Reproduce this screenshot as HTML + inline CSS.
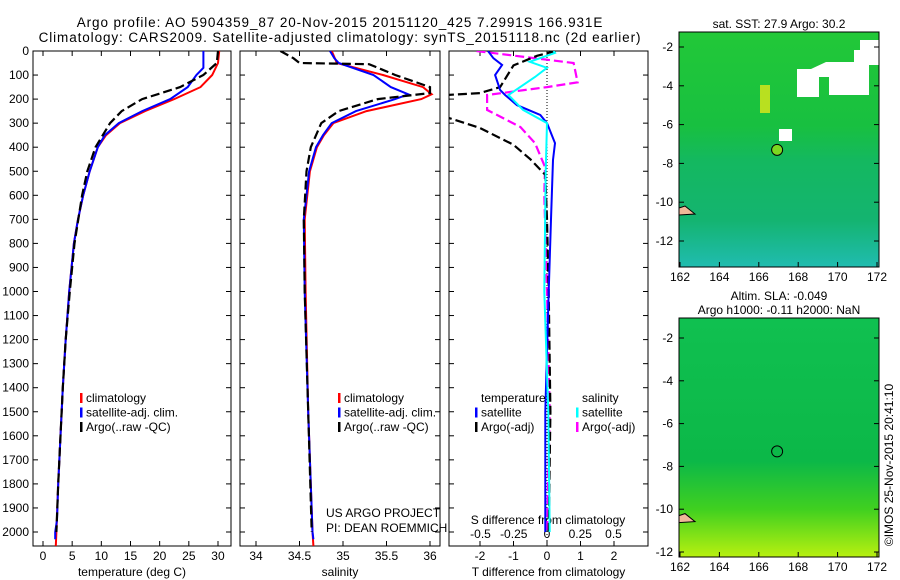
<!DOCTYPE html>
<html><head><meta charset="utf-8"><style>
html,body{margin:0;padding:0;background:#fff;}
svg{display:block;font-family:"Liberation Sans",sans-serif;}
text{font-size:12px;fill:#000;}
.ttl{font-size:13.5px;letter-spacing:0.9px;}
</style></head><body>
<svg id="c" width="900" height="580" viewBox="0 0 900 580" xmlns="http://www.w3.org/2000/svg">
<text class="ttl" x="340" y="27" text-anchor="middle">Argo profile: AO 5904359_87 20-Nov-2015 20151120_425 7.2991S 166.931E</text>
<text class="ttl" x="340" y="42" text-anchor="middle">Climatology: CARS2009. Satellite-adjusted climatology: synTS_20151118.nc (2d earlier)</text>
<g id="g"></g>
</svg>
<script>
// ---- data ----
const tClimDepth = [0,50,100,150,200,250,300,350,400,500,600,700,800,1000,1200,1400,1600,1800,2000,2058];
const tClimVal   = [30.2,30,29,27,22.5,17.5,13.2,10.8,9.4,8,6.9,6,5.3,4.5,3.9,3.4,3,2.6,2.3,2.2];
const tSatDepth  = [0,70,100,150,200,250,300,350,400,500,600,700,800,1000,1200,1400,1600,1800,1950,2000,2030];
const tSatVal    = [27.5,27.5,26.3,24.8,21.8,17,13,10.6,9.4,8,6.9,6,5.3,4.5,3.9,3.4,3,2.6,2.4,2.1,2.1];
const tArgoDepth = [0,50,100,150,200,250,300,400,500,600,800,1000,1200,1400,1600,1800,2000];
const tArgoVal   = [30,29.8,27.5,23.5,17,13.5,11.5,9,7.6,6.7,5.4,4.6,3.9,3.4,3,2.6,2.3];
const sClimDepth = [0,50,100,150,180,200,250,300,350,400,500,600,700,1000,1500,2000,2058];
const sClimVal   = [34.87,34.93,35.46,35.92,36.02,35.9,35.27,34.89,34.78,34.7,34.62,34.59,34.56,34.57,34.6,34.65,34.66];
const sSatDepth  = [0,30,50,100,150,180,200,250,300,350,400,500,600,700,1000,1500,2000,2030];
const sSatVal    = [34.85,34.9,34.95,35.35,35.55,35.75,35.6,35.15,34.87,34.77,34.69,34.61,34.58,34.55,34.56,34.6,34.65,34.66];
const sArgoDepth = [0,30,50,55,100,150,175,200,250,300,400,500,700,1000,1500,2000];
const sArgoVal   = [34.28,34.43,34.5,35.3,35.6,36.0,36.0,35.4,34.95,34.75,34.63,34.58,34.55,34.56,34.6,34.64];
const dTSatDepth = [0,30,58,100,162,183,225,266,300,383,453,700,1000,1500,2000];
const dTSatVal   = [-1.76,-1.6,-1.34,-1.55,-1.4,-1.25,-0.9,-0.2,0,0.24,0.18,0.12,0.05,-0.05,-0.05];
const dTArgoDepth= [0,20,60,150,175,183,275,280,320,390,450,515,700,1000,1500,2000];
const dTArgoVal  = [0.25,-0.3,-1.0,-1.4,-2.0,-3,-3,-2.9,-2.0,-1.0,-0.5,-0.05,0,0.05,0.1,0.05];
const dSSatDepth = [0,8,45,70,108,183,245,300,500,1000,1500,2000];
const dSSatVal   = [0.05,0.06,-0.13,0,-0.09,-0.29,-0.18,0,-0.01,-0.02,0.01,0.02];
const dSArgoDepth= [0,50,130,150,183,245,316,383,482,600,1000,1500,2000];
const dSArgoVal  = [-0.53,0.2,0.23,0.0,-0.45,-0.45,-0.2,-0.09,-0.015,-0.02,0,0.02,0];
const depthTicks = [0,100,200,300,400,500,600,700,800,900,1000,1100,1200,1300,1400,1500,1600,1700,1800,1900,2000];
const tTicks = [0,5,10,15,20,25,30];
const sTicks = [34,34.5,35,35.5,36];
const sTickLabels = ["34","34.5","35","35.5","36"];
const dTTicks = [-2,-1,0,1,2];
const dSTicks = [-0.5,-0.25,0,0.25,0.5];
const dSTickLabels = ["-0.5","-0.25","0","0.25","0.5"];
const lonTicks = [162,164,166,168,170,172];
const latTicks = [-2,-4,-6,-8,-10,-12];

const NS="http://www.w3.org/2000/svg";
const G=document.getElementById('g');
function el(tag,attrs,parent){const e=document.createElementNS(NS,tag);for(const k in attrs)e.setAttribute(k,attrs[k]);(parent||G).appendChild(e);return e;}
function txt(x,y,s,anchor,parent){const t=el('text',{x:x,y:y,'text-anchor':anchor||'middle'},parent);t.textContent=s;return t;}
const yD=d=>51+d*0.2405;

function panel(name,x0,x1,xs,ticks,labels,xlabel,showY){
  const g=el('g',{});
  
  
  const r=el('rect',{x:x0,y:51,width:x1-x0,height:495,fill:'none',stroke:'#000','stroke-width':1},g);
  
  
  depthTicks.forEach(d=>{
    el('line',{x1:x0,x2:x0+5,y1:yD(d),y2:yD(d),stroke:'#000'},g);
    el('line',{x1:x1-5,x2:x1,y1:yD(d),y2:yD(d),stroke:'#000'},g);
    if(showY){const t=txt(x0-4,yD(d)+4,String(d),'end',g);
      
      }
  });
  ticks.forEach((v,i)=>{
    el('line',{x1:xs(v),x2:xs(v),y1:546,y2:541,stroke:'#000'},g);
    el('line',{x1:xs(v),x2:xs(v),y1:51,y2:56,stroke:'#000'},g);
    const t=txt(xs(v),560,labels[i],'middle',g);
    
    
  });
  const xl=txt((x0+x1)/2,576,xlabel,'middle',g);
  
  
  return g;
}
function series(name,dep,val,xs,color,dash,w,x0,x1){
  const cp='cp'+x0;
  if(!document.getElementById(cp)){const c=el('clipPath',{id:cp});el('rect',{x:x0,y:51,width:x1-x0,height:495},c);}
  const pts=dep.map((d,i)=>xs(val[i]).toFixed(1)+','+yD(d).toFixed(1)).join(' ');
  const p=el('polyline',{points:pts,fill:'none',stroke:color,'stroke-width':w||2,'clip-path':'url(#'+cp+')'});
  if(dash)p.setAttribute('stroke-dasharray',dash);
  
  
}
function legend(x,y,items){
  items.forEach((it,i)=>{
    if(it.c){const m=el('rect',{x:x,y:y+i*14.5-9,width:2.5,height:10,fill:it.c});
      
      }
    const t=txt(x+6,y+i*14.5,it.t,'start');
    
    
  });
}
// panel 1
const xT=v=>43+v*5.833;
panel('temperature-panel',33,231,xT,tTicks,tTicks.map(String),'temperature (deg C)',true);
series('temp-climatology',tClimDepth,tClimVal,xT,'#f00',null,2,33,231);
series('temp-satellite-adj',tSatDepth,tSatVal,xT,'#00f',null,2,33,231);
series('temp-argo',tArgoDepth,tArgoVal,xT,'#000','9,4',2.2,33,231);
legend(80,402,[{t:'climatology',c:'#f00'},{t:'satellite-adj. clim.',c:'#00f'},{t:'Argo(..raw -QC)',c:'#000'}]);
// panel 2
const xS=v=>256+(v-34)*87;
panel('salinity-panel',240,440,xS,sTicks,sTickLabels,'salinity',false);
series('sal-climatology',sClimDepth,sClimVal,xS,'#f00',null,2,240,440);
series('sal-satellite-adj',sSatDepth,sSatVal,xS,'#00f',null,2,240,440);
series('sal-argo',sArgoDepth,sArgoVal,xS,'#000','9,4',2.2,240,440);
legend(338,402,[{t:'climatology',c:'#f00'},{t:'satellite-adj. clim.',c:'#00f'},{t:'Argo(..raw -QC)',c:'#000'}]);
const u1=txt(326,517,'US ARGO PROJECT','start');
const u2=txt(326,532,'PI: DEAN ROEMMICH','start');
// panel 3
const xDT=v=>547+v*33.5, xDS=v=>547+v*133;
panel('difference-panel',449,648,xDT,dTTicks,dTTicks.map(String),'T difference from climatology',false);
dSTicks.forEach((v,i)=>{const t=txt(xDS(v),538,dSTickLabels[i]);});
const st=txt(548,524,'S difference from climatology');
el('line',{x1:547,x2:547,y1:51,y2:546,stroke:'#000','stroke-dasharray':'1,2','stroke-width':1});
series('dS-argo',dSArgoDepth,dSArgoVal,xDS,'#f0f','9,4',2.2,449,648);
series('dT-argo',dTArgoDepth,dTArgoVal,xDT,'#000','9,4',2.2,449,648);
series('dT-satellite',dTSatDepth,dTSatVal,xDT,'#00f',null,2,449,648);
series('dS-satellite',dSSatDepth,dSSatVal,xDS,'#0ff',null,2,449,648);
legend(475,402,[{t:'temperature'},{t:'satellite',c:'#00f'},{t:'Argo(-adj)',c:'#000'}]);
legend(576,402,[{t:'salinity'},{t:'satellite',c:'#0ff'},{t:'Argo(-adj)',c:'#f0f'}]);

// maps
function map(name,y0,y1,lat2y,title,kind){
  const g=el('g',{});
  
  
  const lx=v=>680+(v-162)*19.7;
  if(kind==='sst'){
    const gr=el('linearGradient',{id:'sst',x1:0,y1:0,x2:0,y2:1},g);
    el('stop',{offset:'0','stop-color':'#22c838'},gr);
    el('stop',{offset:'0.4','stop-color':'#18c040'},gr);
    el('stop',{offset:'0.55','stop-color':'#14b860'},gr);
    el('stop',{offset:'0.8','stop-color':'#14b470'},gr);
    el('stop',{offset:'1','stop-color':'#20bcb0'},gr);
    el('rect',{x:679,y:y0,width:200,height:y1-y0,fill:'url(#sst)'},g);
    el('path',{d:'M826 62h28v-12h15v45h-40v-18h-10v20h-22v-28h14z',fill:'#fff'},g);
    el('rect',{x:860,y:40,width:19,height:25,fill:'#fff'},g);
    el('rect',{x:779,y:129,width:13,height:12,fill:'#fff'},g);
    el('rect',{x:760,y:85,width:10,height:28,fill:'#b8e020'},g);
  } else {
    const gr=el('linearGradient',{id:'sla',x1:0,y1:0,x2:0,y2:1},g);
    el('stop',{offset:'0','stop-color':'#10c050'},gr);
    el('stop',{offset:'0.6','stop-color':'#0cb848'},gr);
    el('stop',{offset:'0.8','stop-color':'#40d020'},gr);
    el('stop',{offset:'1','stop-color':'#b8f010'},gr);
    el('rect',{x:679,y:y0,width:200,height:y1-y0,fill:'url(#sla)'},g);
  }
  el('rect',{x:679,y:y0,width:200,height:y1-y0,fill:'none',stroke:'#000'},g);
  el('path',{d:`M679 ${lat2y(-10.3)} l6 -2 l10 8 l-16 1z`,fill:'#f0b898',stroke:'#000','stroke-width':1},g);
  const c=el('circle',{cx:lx(166.93),cy:lat2y(-7.3),r:5.5,fill:kind==='sst'?'#7cd820':'#0cb848',stroke:'#000'},g);
  
  
  latTicks.forEach(v=>{
    el('line',{x1:879,x2:874,y1:lat2y(v),y2:lat2y(v),stroke:'#000'},g);
    el('line',{x1:679,x2:684,y1:lat2y(v),y2:lat2y(v),stroke:'#000'},g);
    const t=txt(673,lat2y(v)+4,String(v),'end',g);
    
    
  });
  lonTicks.forEach(v=>{
    el('line',{x1:lx(v),x2:lx(v),y1:y1,y2:y1-5,stroke:'#000'},g);
    const t=txt(lx(v),y1+14,String(v),'middle',g);
    
    
  });
  title.forEach((s,i)=>{const t=txt(779,y0-(title.length-i)*14+10,s,'middle',g);
    
    });
}
map('sst-map',32,267,v=>47+(-2-v)*19.4,['sat. SST: 27.9 Argo: 30.2'],'sst');
map('sla-map',318,557,v=>338+(-2-v)*21.4,['Altim. SLA: -0.049','Argo h1000: -0.11 h2000: NaN'],'sla');
const cr=txt(0,0,'©IMOS 25-Nov-2015 20:41:10','middle');
cr.setAttribute('transform','translate(893,465) rotate(-90)');


</script>
</body></html>
